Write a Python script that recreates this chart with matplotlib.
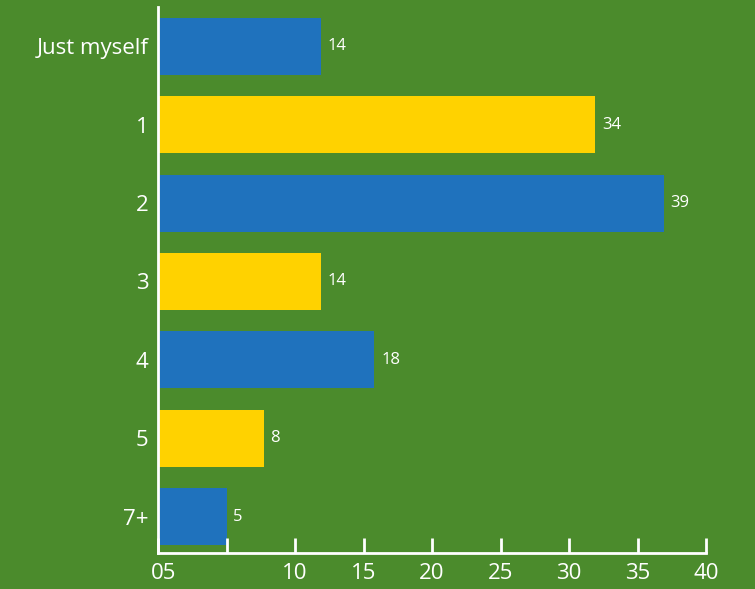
import matplotlib
matplotlib.use("Agg")
import matplotlib.pyplot as plt
import matplotlib.transforms as mtransforms

plt.rcParams['font.family'] = ['Open Sans', 'DejaVu Sans']

categories = ["Just myself", "1", "2", "3", "4", "5", "7+"]
bar_lengths = [11.9, 31.9, 36.9, 11.9, 15.8, 7.7, 5.0]   # as drawn on the axis
value_labels = ["14", "34", "39", "14", "18", "8", "5"]
xticks = [0, 5, 10, 15, 20, 25, 30, 35, 40]
xticklabels = ["05", "", "10", "15", "20", "25", "30", "35", "40"]

green = "#4b8b2c"
blue = "#1f72bd"
yellow = "#ffd200"
colors = [blue if i % 2 == 0 else yellow for i in range(len(categories))]

fig = plt.figure(figsize=(7.55, 5.89), dpi=100, facecolor=green)
ax = fig.add_axes([0.2093, 0.0611, 0.7258, 0.9270])
ax.set_facecolor(green)

y = list(range(len(categories)))
ax.barh(y, bar_lengths, height=0.728, color=colors)
for yi, w, lab in zip(y, bar_lengths, value_labels):
    ax.text(w + 0.5, yi, lab, va="center", ha="left", color="white", fontsize=12)

ax.set_ylim(6.466, -0.504)
ax.set_xlim(0, 40)
ax.set_yticks(y)
ax.set_yticklabels(categories, fontsize=16, color="white")
ax.tick_params(axis="y", length=0, pad=7)
ax.set_xticks(xticks)
ax.set_xticklabels(xticklabels, fontsize=16, color="white")
ax.tick_params(axis="x", direction="in", length=11, width=2, color="white", pad=7)
# nudge the first label right like in the original
lbl = ax.get_xticklabels()[0]
lbl.set_transform(lbl.get_transform() + mtransforms.ScaledTranslation(6 / 100, 0, fig.dpi_scale_trans))

for side in ["top", "right"]:
    ax.spines[side].set_visible(False)
for side in ["left", "bottom"]:
    ax.spines[side].set_color("white")
    ax.spines[side].set_linewidth(2)

fig.savefig("out.png", dpi=100, facecolor=green)
